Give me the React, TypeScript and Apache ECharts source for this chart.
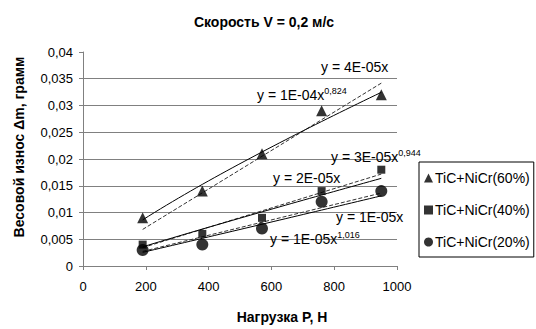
import React, { useEffect, useRef } from "react";
import * as echarts from "echarts";

const loads = [190, 380, 570, 760, 950];
const wear60 = [0.009, 0.014, 0.021, 0.029, 0.032];
const wear40 = [0.004, 0.006, 0.009, 0.014, 0.018];
const wear20 = [0.003, 0.004, 0.007, 0.012, 0.014];
const seriesNames = ["TiC+NiCr(60%)", "TiC+NiCr(40%)", "TiC+NiCr(20%)"];
const seriesSymbols = ["triangle", "rect", "circle"];
const seriesSizes = [11, 8, 12];

const powerLabels = [
  ["y = 1E-04x", "0,824"],
  ["y = 3E-05x", "0,944"],
  ["y = 1E-05x", "1,016"],
];
const linearLabels = ["y = 4E-05x", "y = 2E-05x", "y = 1E-05x"];

const FONT = "'Liberation Sans', Arial, sans-serif";

function powerFit(xs: number[], ys: number[]) {
  const lx = xs.map(Math.log);
  const ly = ys.map(Math.log);
  const n = xs.length;
  const mx = lx.reduce((a, b) => a + b, 0) / n;
  const my = ly.reduce((a, b) => a + b, 0) / n;
  let sxy = 0, sxx = 0;
  for (let i = 0; i < n; i++) {
    sxy += (lx[i] - mx) * (ly[i] - my);
    sxx += (lx[i] - mx) * (lx[i] - mx);
  }
  const b = sxy / sxx;
  const a = Math.exp(my - b * mx);
  return { a, b };
}

function originFit(xs: number[], ys: number[]) {
  let sxy = 0, sxx = 0;
  for (let i = 0; i < xs.length; i++) {
    sxy += xs[i] * ys[i];
    sxx += xs[i] * xs[i];
  }
  return sxy / sxx;
}

function powerCurve(xs: number[], ys: number[]) {
  const { a, b } = powerFit(xs, ys);
  const x0 = xs[0], x1 = xs[xs.length - 1];
  const pts: number[][] = [];
  const steps = 40;
  for (let i = 0; i <= steps; i++) {
    const x = x0 + ((x1 - x0) * i) / steps;
    pts.push([x, a * Math.pow(x, b)]);
  }
  return pts;
}

function linearLine(xs: number[], ys: number[]) {
  const k = originFit(xs, ys);
  const x0 = xs[0], x1 = xs[xs.length - 1];
  return [
    [x0, k * x0],
    [x1, k * x1],
  ];
}

export default function App() {
  const ref = useRef<HTMLDivElement>(null);
  useEffect(() => {
    if (!ref.current) return;
    const chart = echarts.init(ref.current, null, { renderer: "svg" });
    const wears = [wear60, wear40, wear20];

    const scatterSeries = wears.map((w, i) => ({
      name: seriesNames[i],
      type: "scatter",
      symbol: seriesSymbols[i],
      symbolSize: seriesSizes[i],
      itemStyle: { color: "#000" },
      data: loads.map((x, j) => [x, w[j]]),
      z: 5,
    }));
    const powerSeries = wears.map((w) => ({
      type: "line",
      showSymbol: false,
      symbol: "none",
      lineStyle: { color: "#000", width: 1 },
      data: powerCurve(loads, w),
      z: 3,
    }));
    const linSeries = wears.map((w) => ({
      type: "line",
      showSymbol: false,
      symbol: "none",
      lineStyle: { color: "#333", width: 1, type: [4, 2] },
      data: linearLine(loads, w),
      z: 3,
    }));

    const richStyle = {
      b: { fontSize: 14, fontFamily: FONT, fill: "#000", color: "#000", lineHeight: 16, verticalAlign: "bottom" },
      s: { fontSize: 9, fontFamily: FONT, fill: "#000", color: "#000", lineHeight: 10, verticalAlign: "top" },
    };
    const labelPos = {
      lin: [
        [321, 67],
        [273, 178],
        [336, 217],
      ],
      pow: [
        [257, 94],
        [331, 156],
        [270, 238],
      ],
    };
    const graphics: any[] = [];
    linearLabels.forEach((t, i) => {
      graphics.push({
        type: "text",
        x: labelPos.lin[i][0],
        y: labelPos.lin[i][1],
        z: 10,
        style: { text: t, fontSize: 14, fontFamily: FONT, fill: "#000", verticalAlign: "middle" },
      });
    });
    powerLabels.forEach((t, i) => {
      graphics.push({
        type: "text",
        x: labelPos.pow[i][0],
        y: labelPos.pow[i][1],
        z: 10,
        style: {
          text: `{b|${t[0]}}{s|${t[1]}}`,
          rich: richStyle,
          fontSize: 14,
          fontFamily: FONT,
          fill: "#000",
          verticalAlign: "middle",
        },
      });
    });

    chart.setOption({
      animation: false,
      backgroundColor: "#fff",
      title: {
        text: "Скорость V = 0,2 м/с",
        left: 259,
        textAlign: "center",
        top: 10,
        textStyle: { fontSize: 14, fontWeight: "bold", fontFamily: FONT, color: "#000" },
      },
      grid: { left: 83, right: 139, top: 52, bottom: 61, containLabel: false },
      legend: {
        orient: "vertical",
        left: 419,
        top: 162,
        borderColor: "#000",
        borderWidth: 1,
        borderRadius: 0,
        padding: [9, 4, 8, 5],
        itemGap: 18,
        itemWidth: 9,
        itemHeight: 9,
        textStyle: { fontSize: 14, fontFamily: FONT, color: "#000", padding: [0, 0, 0, -3] },
        data: seriesNames.map((n, i) => ({ name: n, icon: seriesSymbols[i] })),
      },
      xAxis: {
        type: "value",
        min: 0,
        max: 1000,
        interval: 200,
        name: "Нагрузка Р, Н",
        nameLocation: "middle",
        nameGap: 44,
        nameTextStyle: {
          fontSize: 14,
          fontWeight: "bold",
          fontFamily: FONT,
          color: "#000",
          padding: [0, 0, 0, 84],
        },
        axisLine: { show: true, lineStyle: { color: "#808080", width: 1 } },
        axisTick: { show: true, inside: false, length: 4, lineStyle: { color: "#808080" } },
        axisLabel: {
          fontSize: 13,
          fontFamily: FONT,
          color: "#000",
          margin: 14,
          formatter: (v: number) => String(v),
        },
        splitLine: { show: false },
      },
      yAxis: {
        type: "value",
        min: 0,
        max: 0.04,
        interval: 0.005,
        name: "Весовой износ Δm, грамм",
        nameLocation: "middle",
        nameGap: 57,
        nameRotate: 90,
        nameTextStyle: {
          fontSize: 14,
          fontWeight: "bold",
          fontFamily: FONT,
          color: "#000",
          padding: [0, 0, 0, 24],
        },
        axisLine: { show: true, lineStyle: { color: "#808080", width: 1 } },
        axisTick: { show: true, inside: false, length: 4, lineStyle: { color: "#808080" } },
        axisLabel: {
          fontSize: 13,
          fontFamily: FONT,
          color: "#000",
          margin: 10,
          formatter: (v: number) => (Math.round(v * 1000) / 1000).toString().replace(".", ","),
        },
        splitLine: { show: true, showMaxLine: false, lineStyle: { color: "#808080", width: 1 } },
      },
      graphic: graphics,
      series: [...linSeries, ...powerSeries, ...scatterSeries],
    });
    return () => chart.dispose();
  }, []);
  return (
    <div
      ref={ref}
      style={{ position: "fixed", left: 0, top: 0, width: 536, height: 329 }}
    />
  );
}
